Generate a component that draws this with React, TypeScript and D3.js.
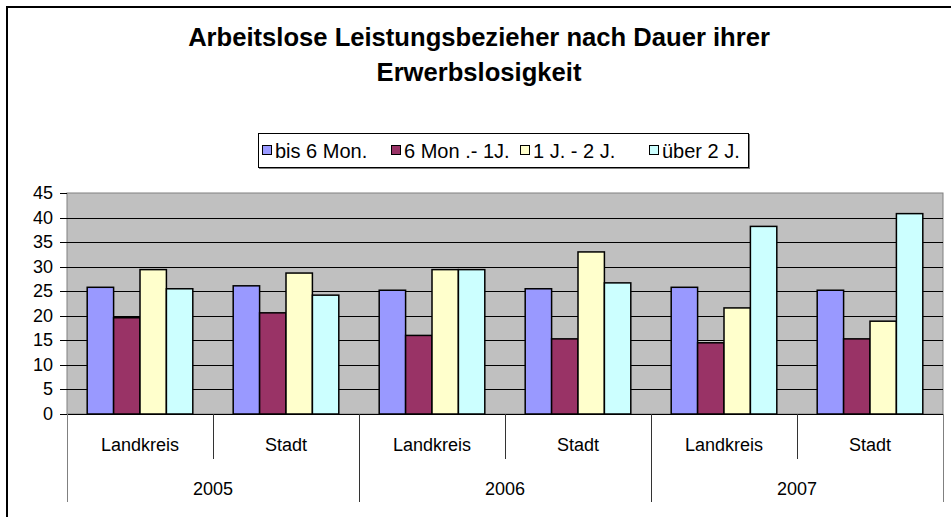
import React from "react";
import * as d3 from "d3";

const years = ["2005", "2006", "2007"];
const regions = ["Landkreis", "Stadt"];
const seriesNames = ["bis 6 Mon.", "6 Mon .- 1J.", "1 J. - 2 J.", "über 2 J."];
const seriesColors = ["#9999FF", "#993366", "#FFFFCC", "#CCFFFF"];
// values per [year][region] for each series
const bis6 = [25.8, 26.1, 25.2, 25.5, 25.8, 25.2];
const mon6bis1 = [19.6, 20.6, 16.0, 15.3, 14.5, 15.3];
const j1bis2 = [29.4, 28.7, 29.4, 33.0, 21.6, 18.9];
const ueber2 = [25.5, 24.2, 29.4, 26.7, 38.2, 40.8];
const yTicks = [0, 5, 10, 15, 20, 25, 30, 35, 40, 45];
const titleLines = ["Arbeitslose Leistungsbezieher nach Dauer ihrer", "Erwerbslosigkeit"];

const allSeries = [bis6, mon6bis1, j1bis2, ueber2];
const FONT = "'Liberation Sans', Arial, sans-serif";

export default function App() {
  const W = 951, H = 517;
  const left = 67, right = 943, top = 193, bottom = 414;
  const y = d3.scaleLinear().domain([0, 45]).range([bottom, top]);
  const xYear = d3.scaleBand<string>().domain(years).range([left, right]).padding(0);
  const xRegion = d3.scaleBand<string>().domain(regions).range([0, xYear.bandwidth()]).padding(0);
  const xSeries = d3.scaleBand<string>().domain(seriesNames).range([0, xRegion.bandwidth()]).paddingInner(0).paddingOuter(0.765);
  const xLegend = d3.scaleBand<string>().domain(seriesNames).range([262, 778]).padding(0);

  const groups: { year: string; region: string; idx: number }[] = [];
  years.forEach((yr, i) => regions.forEach((rg, j) => groups.push({ year: yr, region: rg, idx: i * 2 + j })));

  return (
    <svg width={W} height={H} style={{ position: "absolute", left: 0, top: 0 }} fontFamily={FONT}>
      <rect x={0} y={0} width={W} height={H} fill="#fff" />
      <rect x={7} y={7} width={W + 20} height={H + 20} fill="none" stroke="#000" strokeWidth={2} />
      {titleLines.map((t, i) => (
        <text key={i} x={479} y={46 + i * 35} textAnchor="middle" fontWeight="bold" fontSize={25.6}>{t}</text>
      ))}
      {/* legend */}
      <rect x={259} y={134} width={491} height={35} fill="#808080" />
      <rect x={258.5} y={133.5} width={490} height={34} fill="#fff" stroke="#000" strokeWidth={1} />
      {seriesNames.map((s, i) => {
        const lx = xLegend(s) as number;
        return (
          <g key={s}>
            <rect x={lx + 0.5} y={145.5} width={9} height={9} fill={seriesColors[i]} stroke="#000" strokeWidth={1} />
            <text x={lx + 13} y={157.5} fontSize={20}>{s}</text>
          </g>
        );
      })}
      {/* plot area */}
      <rect x={left} y={top} width={right - left} height={bottom - top} fill="#C0C0C0" stroke="#808080" strokeWidth={1} />
      {yTicks.filter(t => t > 0 && t < 45).map(t => (
        <line key={t} x1={left} x2={right} y1={Math.round(y(t)) + 0.5} y2={Math.round(y(t)) + 0.5} stroke="#000" strokeWidth={1} />
      ))}
      {yTicks.map(t => (
        <g key={t}>
          <line x1={60} x2={left} y1={Math.round(y(t)) + 0.5} y2={Math.round(y(t)) + 0.5} stroke="#000" />
          <text x={53} y={y(t) + 6} textAnchor="end" fontSize={18}>{t}</text>
        </g>
      ))}
      {/* bars */}
      {groups.map(g => {
        const gx = (xYear(g.year) as number) + (xRegion(g.region) as number);
        return seriesNames.map((s, si) => {
          const v = allSeries[si][g.idx];
          const bx = gx + (xSeries(s) as number);
          return (
            <rect key={g.idx + "-" + si} x={bx} y={y(v)} width={xSeries.bandwidth()} height={bottom - y(v)}
              fill={seriesColors[si]} stroke="#000" strokeWidth={1.5} />
          );
        });
      })}
      <line x1={left} x2={right} y1={bottom + 0.5} y2={bottom + 0.5} stroke="#000" />
      {/* category axis */}
      <line x1={left + 0.5} x2={left + 0.5} y1={bottom} y2={502} stroke="#808080" />
      <line x1={right + 0.5} x2={right + 0.5} y1={bottom} y2={502} stroke="#808080" />
      {years.map((yr, i) => (
        <g key={yr}>
          {i > 0 && <line x1={(xYear(yr) as number) + 0.5} x2={(xYear(yr) as number) + 0.5} y1={bottom} y2={502} stroke="#333" />}
          <line x1={(xYear(yr) as number) + xRegion.bandwidth() + 0.5} x2={(xYear(yr) as number) + xRegion.bandwidth() + 0.5} y1={bottom} y2={459} stroke="#333" />
          {regions.map(rg => (
            <text key={rg} x={(xYear(yr) as number) + (xRegion(rg) as number) + xRegion.bandwidth() / 2} y={451} textAnchor="middle" fontSize={18}>{rg}</text>
          ))}
          <text x={(xYear(yr) as number) + xYear.bandwidth() / 2} y={495} textAnchor="middle" fontSize={18}>{yr}</text>
        </g>
      ))}
    </svg>
  );
}
